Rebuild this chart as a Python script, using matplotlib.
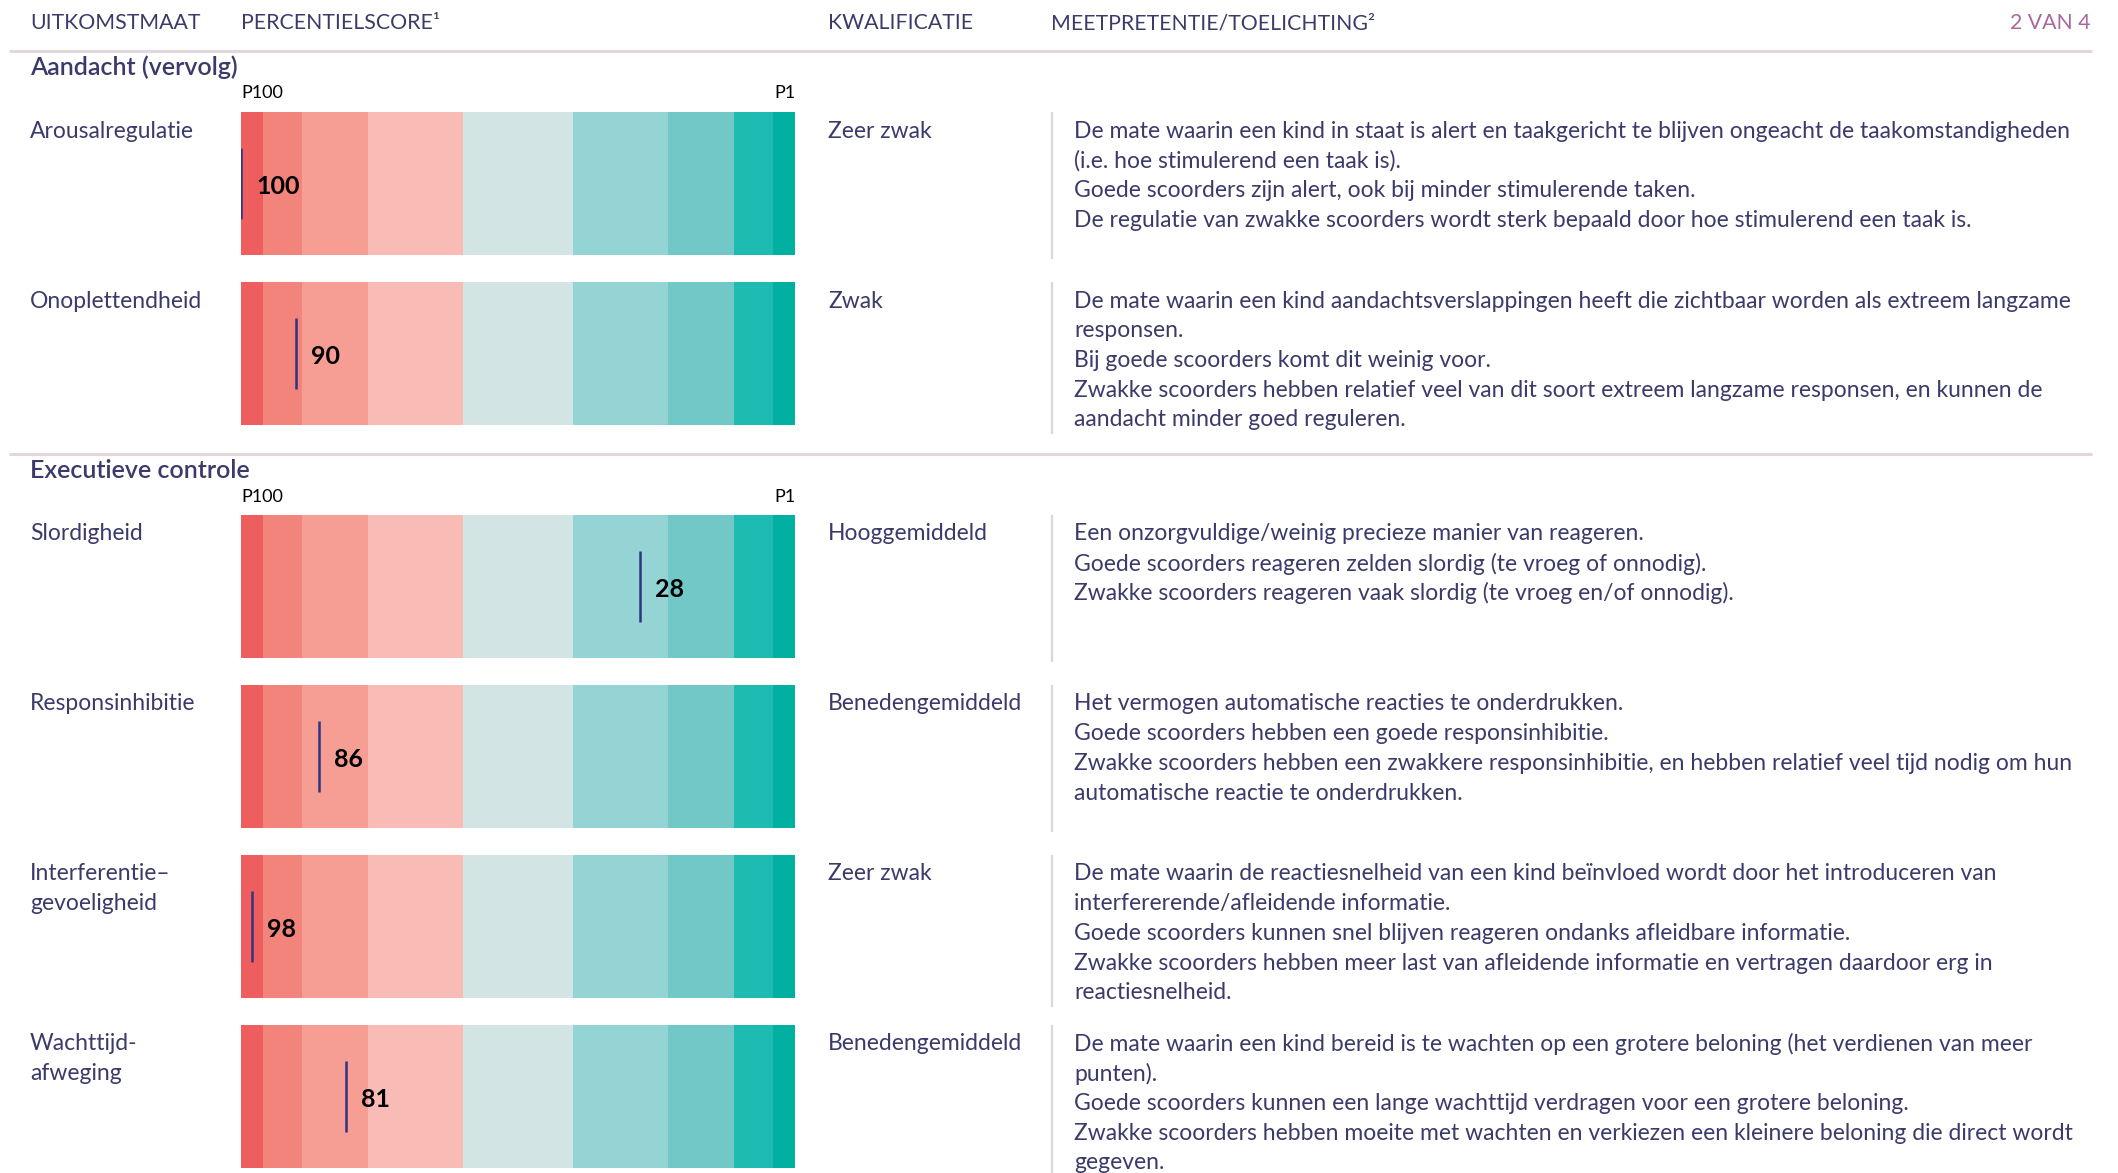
import matplotlib
matplotlib.use("Agg")
import matplotlib.pyplot as plt
import matplotlib.transforms as mtransforms

# ---------------- data ----------------
headers = ["UITKOMSTMAAT", "PERCENTIELSCORE\u00b9", "KWALIFICATIE", "MEETPRETENTIE/TOELICHTING\u00b2"]
page_label = "2 VAN 4"
sections = ["Aandacht (vervolg)", "Executieve controle"]
labels = ["Arousalregulatie", "Onoplettendheid", "Slordigheid", "Responsinhibitie",
          "Interferentie\u2013\ngevoeligheid", "Wachttijd-\nafweging"]
scores = [100, 90, 28, 86, 98, 81]
qualifications = ["Zeer zwak", "Zwak", "Hooggemiddeld", "Benedengemiddeld", "Zeer zwak", "Benedengemiddeld"]
descriptions = [
    ["De mate waarin een kind in staat is alert en taakgericht te blijven ongeacht de taakomstandigheden",
     "(i.e. hoe stimulerend een taak is).",
     "Goede scoorders zijn alert, ook bij minder stimulerende taken.",
     "De regulatie van zwakke scoorders wordt sterk bepaald door hoe stimulerend een taak is."],
    ["De mate waarin een kind aandachtsverslappingen heeft die zichtbaar worden als extreem langzame",
     "responsen.",
     "Bij goede scoorders komt dit weinig voor.",
     "Zwakke scoorders hebben relatief veel van dit soort extreem langzame responsen, en kunnen de",
     "aandacht minder goed reguleren."],
    ["Een onzorgvuldige/weinig precieze manier van reageren.",
     "Goede scoorders reageren zelden slordig (te vroeg of onnodig).",
     "Zwakke scoorders reageren vaak slordig (te vroeg en/of onnodig)."],
    ["Het vermogen automatische reacties te onderdrukken.",
     "Goede scoorders hebben een goede responsinhibitie.",
     "Zwakke scoorders hebben een zwakkere responsinhibitie, en hebben relatief veel tijd nodig om hun",
     "automatische reactie te onderdrukken."],
    ["De mate waarin de reactiesnelheid van een kind be\u00efnvloed wordt door het introduceren van",
     "interfererende/afleidende informatie.",
     "Goede scoorders kunnen snel blijven reageren ondanks afleidbare informatie.",
     "Zwakke scoorders hebben meer last van afleidende informatie en vertragen daardoor erg in",
     "reactiesnelheid."],
    ["De mate waarin een kind bereid is te wachten op een grotere beloning (het verdienen van meer",
     "punten).",
     "Goede scoorders kunnen een lange wachttijd verdragen voor een grotere beloning.",
     "Zwakke scoorders hebben moeite met wachten en verkiezen een kleinere beloning die direct wordt",
     "gegeven."],
]
band_edges = [100, 96, 89, 77, 60, 40, 23, 11, 4, 0]
band_colors = ["#EF5E5E", "#F3847C", "#F69D94", "#F9BBB5", "#D3E4E4",
               "#95D4D4", "#71C8C6", "#1EBBB3", "#00B1A1"]
scale_labels = ["P100", "P1"]

# ---------------- layout ----------------
W, H = 2118, 1173
DPI = 100
FONT = "Lato"
TXT = "#3B3A6B"
fig = plt.figure(figsize=(W / DPI, H / DPI), dpi=DPI)
fig.patch.set_facecolor("white")

ov = fig.add_axes([0, 0, 1, 1])
ov.set_xlim(0, W)
ov.set_ylim(H, 0)
ov.axis("off")

X_LABEL, X_BAR, X_BAR_R, X_KWAL, X_SEP, X_DESC = 30, 241, 795, 828, 1052, 1074
BAR_TOPS = [112, 282, 515, 685, 855, 1025]
BAR_H = 143
LINE_SP = 29.7
FS_HEAD = 15.3
FS = 16.5
TOFF = 19

# header
hx = [X_LABEL, X_BAR, X_KWAL, 1051]
for x, t in zip(hx, headers):
    ov.text(x, 23, t, fontsize=FS_HEAD, family=FONT, color=TXT, va="center", ha="left")
ov.text(2091, 23, page_label, fontsize=FS_HEAD, family=FONT, color="#A8689F", va="center", ha="right")
ov.plot([9, 2092], [51, 51], color="#E3D7DE", lw=2.2, solid_capstyle="butt")
ov.plot([9, 2092], [454, 454], color="#E3D7DE", lw=2.2, solid_capstyle="butt")

section_y = [67, 470]
scale_y = [93, 497]
for s, (sy, py) in enumerate(zip(section_y, scale_y)):
    ov.text(X_LABEL, sy, sections[s], fontsize=18, family=FONT, weight="semibold",
            color=TXT, va="center", ha="left")
    ov.text(X_BAR, py, scale_labels[0], fontsize=13, family=FONT, color="black", va="center", ha="left")
    ov.text(X_BAR_R, py, scale_labels[1], fontsize=13, family=FONT, color="black", va="center", ha="right")

for i in range(len(labels)):
    top = BAR_TOPS[i]
    for k, line in enumerate(labels[i].split("\n")):
        ov.text(X_LABEL, top + TOFF + k * LINE_SP, line, fontsize=FS, family=FONT, color=TXT,
                va="center", ha="left")
    ov.text(X_KWAL, top + TOFF, qualifications[i], fontsize=FS, family=FONT, color=TXT,
            va="center", ha="left")
    for k, line in enumerate(descriptions[i]):
        ov.text(X_DESC, top + TOFF + k * LINE_SP, line, fontsize=FS, family=FONT, color=TXT,
                va="center", ha="left")
    n = len(descriptions[i])
    sep_bottom = min(max(top + BAR_H + 4, top + TOFF + (n - 1) * LINE_SP + 14), H)
    ov.plot([X_SEP, X_SEP], [top, sep_bottom], color="#DCD6DA", lw=1.6, solid_capstyle="butt")

    # bar
    bax = fig.add_axes([X_BAR / W, 1 - (top + BAR_H) / H, (X_BAR_R - X_BAR) / W, BAR_H / H])
    bax.set_xlim(100, 0)
    bax.set_ylim(0, 1)
    bax.axis("off")
    for hi, lo, c in zip(band_edges[:-1], band_edges[1:], band_colors):
        bax.axvspan(lo, hi, color=c, lw=0)
    bax.vlines(scores[i], 0.25, 0.75, color="#2E3580", lw=1.8)
    tr = mtransforms.offset_copy(bax.transData, fig=fig, x=15, y=-3, units="dots")
    bax.text(scores[i], 0.5, str(scores[i]), transform=tr, fontsize=18, family=FONT,
             weight="bold", color="black", va="center", ha="left")

fig.savefig("out.png", dpi=DPI, facecolor="white")
